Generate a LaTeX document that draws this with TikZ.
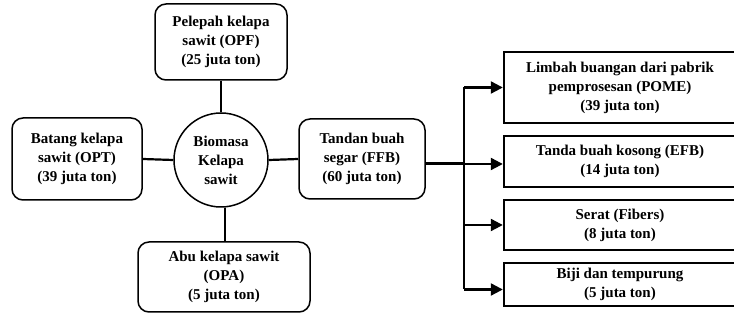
\documentclass[tikz,border=0pt]{standalone}
\usepackage{fontspec}
\setmainfont{Liberation Serif}[BoldFont={Liberation Serif Bold}]
\usetikzlibrary{arrows.meta,calc}
\begin{document}
\begin{tikzpicture}[x=1pt,y=-1pt,
  every node/.style={font=\fontsize{15}{19}\selectfont\rmfamily\bfseries, align=center, inner sep=0pt},
  rbox/.style={draw, line width=1.5pt, rounded corners=11pt},
  sbox/.style={draw, line width=2.4pt, minimum width=232pt},
  conn/.style={line width=2.2pt},
  arr/.style={line width=2.2pt, -{Triangle[length=12pt,width=12pt]}}]
\useasboundingbox (0,0) rectangle (734,320);
\node[rbox, minimum width=132pt, minimum height=76pt] (opf) at (221,42) {Pelepah kelapa\\sawit (OPF)\\(25 juta ton)};
\node[rbox, minimum width=130pt, minimum height=82pt] (opt) at (77,159) {Batang kelapa\\sawit (OPT)\\(39 juta ton)};
\node[draw, circle, line width=1.5pt, minimum size=94pt] (circ) at (221,160) {Biomasa\\Kelapa\\sawit};
\node[rbox, minimum width=172pt, minimum height=70pt] (opa) at (224,277) {Abu kelapa sawit\\(OPA)\\(5 juta ton)};
\node[rbox, minimum width=126pt, minimum height=80pt] (ffb) at (362,159) {Tandan buah\\segar (FFB)\\(60 juta ton)};
\node[sbox, minimum height=71pt] (pome) at (620,87.5) {Limbah buangan dari pabrik\\pemprosesan (POME)\\(39 juta ton)};
\node[sbox, minimum height=51pt] (efb) at (620,161.5) {Tanda buah kosong (EFB)\\(14 juta ton)};
\node[sbox, minimum height=50pt] (fib) at (620,225) {Serat (Fibers)\\(8 juta ton)};
\node[sbox, minimum height=43pt] (biji) at (620,284.5) {Biji dan tempurung\\(5 juta ton)};
\coordinate (bus) at (464,164);
\coordinate (cs) at ($(circ.south)+(4,0)$);
\coordinate (bj) at ($(biji.west)+(0,5)$);
\draw[conn] (opf.south) -- (circ.north);
\draw[conn] (opt.east) -- (circ.west);
\draw[conn] (circ.east) -- (ffb.west);
\draw[conn] (cs) -- (cs |- opa.north);
\draw[line width=3pt] (ffb.east |- bus) -- (bus);
\draw[conn] (bus |- pome.west) -- (bus |- bj);
\draw[arr] (bus |- pome.west) -- (pome.west);
\draw[arr] (bus) -- (bus -| efb.west);
\draw[arr] (bus |- fib.west) -- (fib.west);
\draw[arr] (bus |- bj) -- (bj);
\end{tikzpicture}
\end{document}
